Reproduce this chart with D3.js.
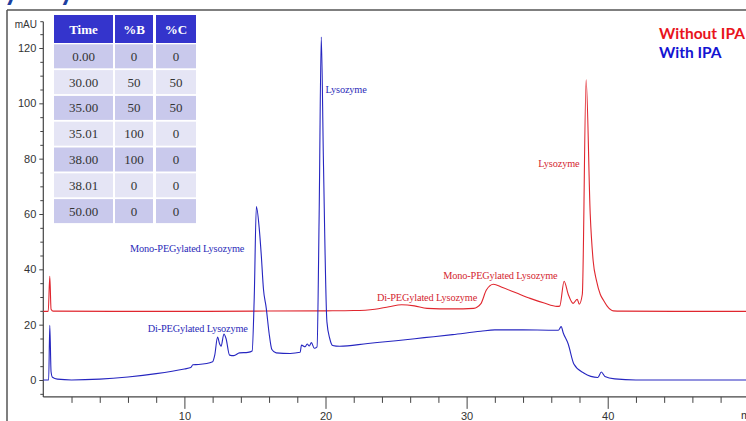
<!DOCTYPE html>
<html><head><meta charset="utf-8">
<script src="https://cdn.jsdelivr.net/npm/d3@7"></script>
<style>
html,body{margin:0;padding:0;background:#fff;overflow:hidden;}
svg{display:block;}
</style></head>
<body>
<svg id="chart" width="746" height="421"></svg>
<script>
// ---- data ----
const redTime = [0,0.35,0.46,0.55,0.7,5,10,15,20,22,23.5,24.5,25.4,26.3,27.2,29,30.5,31.0,31.4,31.9,32.5,33.5,34.5,35.5,36.4,36.6,36.91,37.2,37.55,37.84,37.98,38.2,38.47,38.76,38.97,39.2,39.47,39.7,39.96,40.4,41,45,50];
const redValue = [24.8,24.8,37.5,25.6,24.9,24.8,24.8,24.9,25.0,25.1,25.6,26.5,27.2,26.8,25.9,25.7,25.9,27.5,32.5,34.6,33.5,31.5,29.5,27.8,26.6,26.7,35.7,31,27.7,29.2,27.4,31,108.5,60,43,36,31,28.8,26.7,25.0,24.9,24.8,24.8];

const blueTime = [0,0.38,0.46,0.55,0.65,1.0,2,4,6,8,10,10.45,10.6,11.0,12.0,12.15,12.35,12.5,12.6,12.8,12.95,13.2,13.5,13.9,14.5,14.8,14.95,15.1,15.3,15.45,15.6,15.8,16.0,16.2,16.5,17.5,18.2,18.3,18.55,18.7,18.85,19.0,19.2,19.4,19.55,19.7,19.85,20.1,20.3,20.5,21,23,25,27,29,31,32,34,36,36.5,36.7,36.85,37.2,37.6,38.3,39.3,39.55,39.8,40.5,42,50];
const blueValue = [0,0,19.8,3,1,0.3,0,0.3,1.1,2.3,4.0,4.5,5.5,5.6,6.6,9,15.5,13,12.2,16.6,15,9,8.8,9.8,10,10.5,30,62.7,55,45,33,26,17,11,9.8,9.6,10,12.6,12,13,12.3,13.5,11.5,12,60,124,80,21,15,12.5,12.2,13.2,14.2,15.3,16.4,17.6,18.1,18.1,18.0,18.0,19.3,17,13,5.8,2.5,0.9,2.9,1.3,0.4,0,0];

const tableHeader = ["Time","%B","%C"];
const tableTime = ["0.00","30.00","35.00","35.01","38.00","38.01","50.00"];
const tableB = ["0","50","50","100","100","0","0"];
const tableC = ["0","50","50","0","0","0","0"];

const xMajorTicks = [10,20,30,40];
const xMinorTicks = [2,4,6,8,12,14,16,18,22,24,26,28,32,34,36,38,42,44,46,48];
const yMajorTicks = [0,20,40,60,80,100,120];
const yMinorTicks = [-5,5,10,15,25,30,35,45,50,55,65,70,75,85,90,95,105,110,115,125];

const blueLabels = [
  {text:"Lysozyme", t:20.0, v:103.8},
  {text:"Mono-PEGylated Lysozyme", t:6.15, v:46.2},
  {text:"Di-PEGylated Lysozyme", t:7.4, v:17.3}
];
const redLabels = [
  {text:"Lysozyme", t:35.08, v:77.1},
  {text:"Mono-PEGylated Lysozyme", t:28.35, v:36.5},
  {text:"Di-PEGylated Lysozyme", t:23.65, v:28.5}
];
const legendItems = [
  {text:"Without IPA", color:"#e8141c"},
  {text:"With IPA", color:"#1414d2"}
];

// ---- chart ----
const svg = d3.select("#chart");
const x = d3.scaleLinear().domain([0, 49.8]).range([43.3, 746]);
const y = d3.scaleLinear().domain([0, 120]).range([380, 48]);

// clipped title (cut off at top)
svg.append("text").attr("x",-8).attr("y",0).attr("fill","#1c3fa0")
  .attr("font-family","Lato, sans-serif").attr("font-weight","bold").attr("font-size",28)
  .text("Lysozyme");
svg.append("rect").attr("x",0).attr("y",9).attr("width",746).attr("height",3).attr("fill","#fff");

// frame
svg.append("line").attr("x1",7).attr("x2",746).attr("y1",10).attr("y2",10).attr("stroke","#555").attr("stroke-width",1.5);
svg.append("line").attr("x1",7).attr("x2",7).attr("y1",10).attr("y2",421).attr("stroke","#555").attr("stroke-width",1.5);

const axisColor = "#444";
// axis lines
svg.append("line").attr("x1",x(0)).attr("x2",x(0)).attr("y1",y(129.5)).attr("y2",y(-6.1)).attr("stroke",axisColor).attr("stroke-width",1.2);
svg.append("line").attr("x1",x(0)).attr("x2",746).attr("y1",y(-6.1)).attr("y2",y(-6.1)).attr("stroke",axisColor).attr("stroke-width",1.2);

// y axis
const gyMinor = svg.append("g").attr("transform",`translate(${x(0)},0)`)
  .call(d3.axisLeft(y).tickValues(yMinorTicks).tickSize(3).tickFormat(""));
const gyMajor = svg.append("g").attr("transform",`translate(${x(0)},0)`)
  .call(d3.axisLeft(y).tickValues(yMajorTicks).tickSize(4).tickPadding(3));
svg.append("line").attr("x1",x(0)-3).attr("x2",x(0)).attr("y1",y(129.5)).attr("y2",y(129.5)).attr("stroke",axisColor);

// x axis
const gxMinor = svg.append("g").attr("transform",`translate(0,${y(-6.1)})`)
  .call(d3.axisBottom(x).tickValues(xMinorTicks).tickSize(6).tickFormat(""));
const gxMajor = svg.append("g").attr("transform",`translate(0,${y(-6.1)})`)
  .call(d3.axisBottom(x).tickValues(xMajorTicks).tickSize(12).tickPadding(3));

[gyMinor,gyMajor,gxMinor,gxMajor].forEach(g=>{
  g.select(".domain").remove();
  g.selectAll("line").attr("stroke",axisColor);
  g.selectAll("text").attr("fill","#333").attr("font-family","'Liberation Sans', Arial, sans-serif").attr("font-size",11);
});

svg.append("text").attr("x",37).attr("y",28).attr("text-anchor","end").attr("fill","#333")
  .attr("font-family","'Liberation Sans', Arial, sans-serif").attr("font-size",10).text("mAU");
svg.append("text").attr("x",741).attr("y",419).attr("fill","#333")
  .attr("font-family","'Liberation Sans', Arial, sans-serif").attr("font-size",11).text("min");

// traces
const line = d3.line().x(d=>x(d[0])).y(d=>y(d[1])).curve(d3.curveMonotoneX);
svg.append("path").datum(redTime.map((t,i)=>[t,redValue[i]])).attr("d",line)
  .attr("fill","none").attr("stroke","#e0262e").attr("stroke-width",1.1);
svg.append("path").datum(blueTime.map((t,i)=>[t,blueValue[i]])).attr("d",line)
  .attr("fill","none").attr("stroke","#2626c0").attr("stroke-width",1.1);

// peak labels
const serif = "'Liberation Serif', 'Times New Roman', serif";
svg.selectAll("text.bl").data(blueLabels).join("text").attr("class","bl")
  .attr("x",d=>x(d.t)).attr("y",d=>y(d.v)).attr("fill","#2a2ab8")
  .attr("font-family",serif).attr("font-size",10.3).attr("letter-spacing",-0.15).text(d=>d.text);
svg.selectAll("text.rl").data(redLabels).join("text").attr("class","rl")
  .attr("x",d=>x(d.t)).attr("y",d=>y(d.v)).attr("fill","#d42630")
  .attr("font-family",serif).attr("font-size",10.3).attr("letter-spacing",-0.15).text(d=>d.text);

// legend
svg.selectAll("text.lg").data(legendItems).join("text").attr("class","lg")
  .attr("x",659).attr("y",(d,i)=>39+i*19).attr("fill",d=>d.color)
  .attr("font-family","Lato, 'Open Sans', sans-serif").attr("font-weight","bold").attr("font-size",15.5)
  .text(d=>d.text);

// gradient table
const colX = [54,115,156], colW = [59,38,40];
const tbl = svg.append("g");
tbl.selectAll("rect.h").data(tableHeader).join("rect").attr("class","h")
  .attr("x",(d,i)=>colX[i]).attr("y",15).attr("width",(d,i)=>colW[i]).attr("height",28).attr("fill","#3434cc");
tbl.selectAll("text.h").data(tableHeader).join("text").attr("class","h")
  .attr("x",(d,i)=>colX[i]+colW[i]/2).attr("y",33.5).attr("text-anchor","middle").attr("fill","#fff")
  .attr("font-family",serif).attr("font-weight","bold").attr("font-size",13).text(d=>d);
const rows = tableTime.map((t,i)=>[t,tableB[i],tableC[i]]);
rows.forEach((r,ri)=>{
  const top = 44.3 + ri*25.8;
  r.forEach((cell,ci)=>{
    tbl.append("rect").attr("x",colX[ci]).attr("y",top).attr("width",colW[ci]).attr("height",24)
      .attr("fill", ri%2===0 ? "#c9c9ec" : "#e5e5f5");
    tbl.append("text").attr("x",colX[ci]+colW[ci]/2).attr("y",top+16.5).attr("text-anchor","middle")
      .attr("fill","#333").attr("font-family",serif).attr("font-size",13).text(cell);
  });
});
</script>
</body></html>
